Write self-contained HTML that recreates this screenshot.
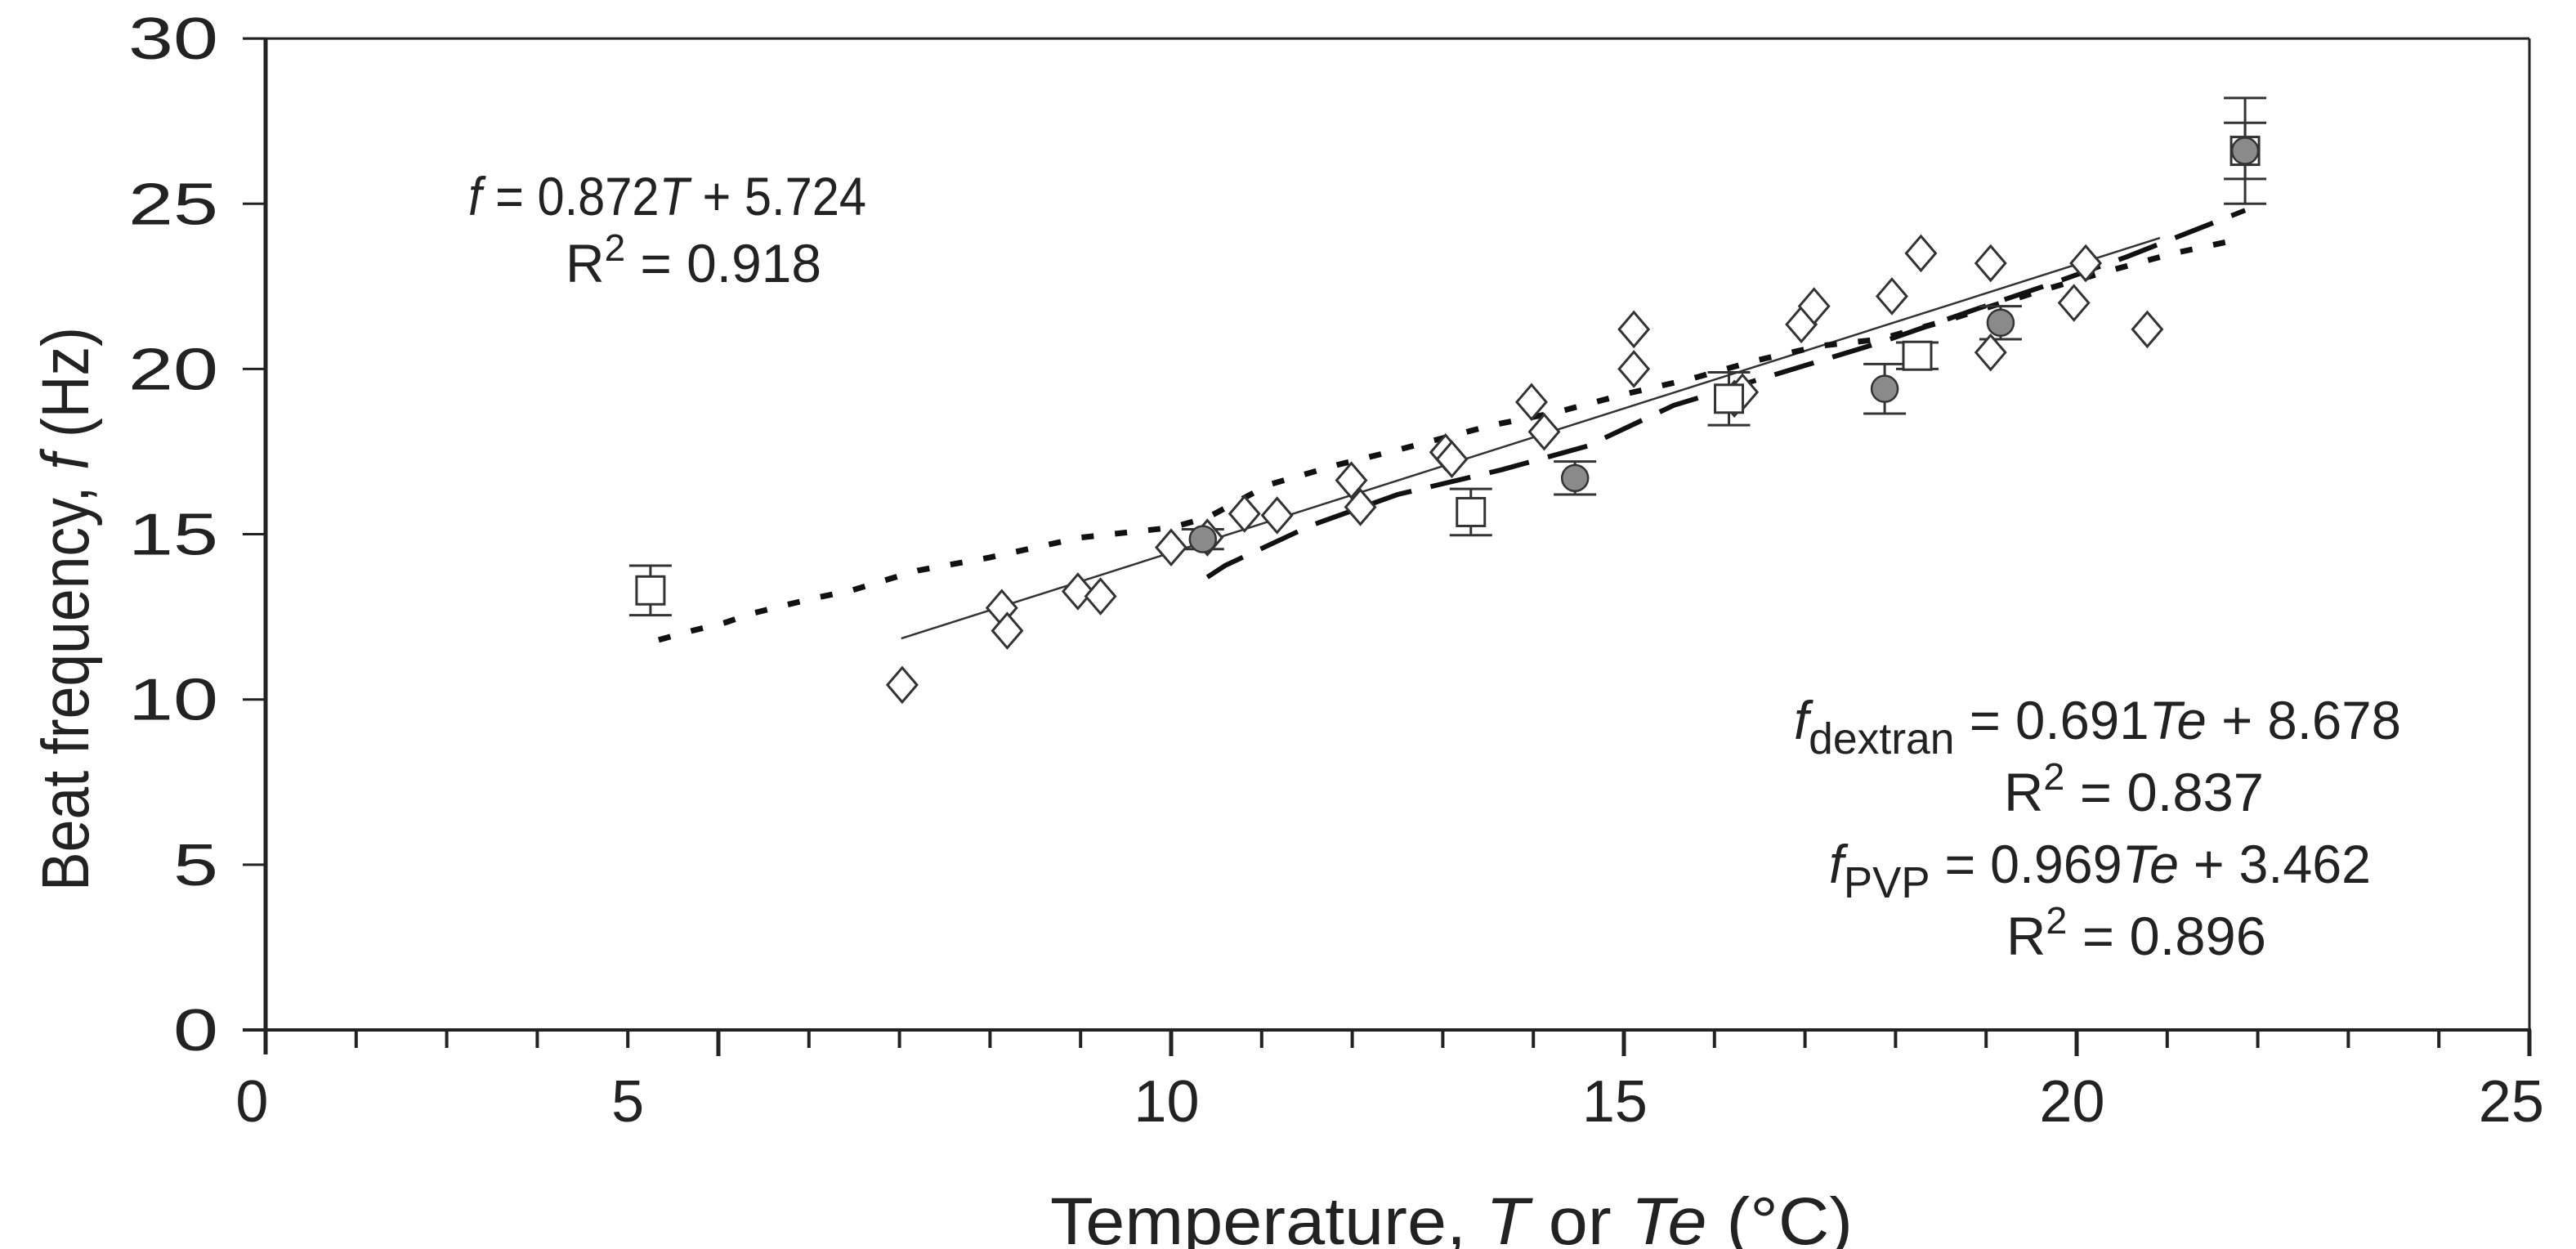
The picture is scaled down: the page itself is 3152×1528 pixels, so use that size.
<!DOCTYPE html>
<html><head><meta charset="utf-8"><style>
html,body{margin:0;padding:0;background:#fff;}
svg{display:block;}
text{font-family:"Liberation Sans",Arial,sans-serif;fill:#222;}
</style></head><body>
<svg id="chart" width="3152" height="1528" viewBox="0 0 3152 1528" xmlns="http://www.w3.org/2000/svg">
<g id="frame"></g>
<g id="lines"></g>
<g id="marks"></g>
<g id="labels">
<text x="573" y="263" font-size="66" textLength="487" lengthAdjust="spacingAndGlyphs"><tspan font-style="italic">f</tspan> = 0.872<tspan font-style="italic">T</tspan> + 5.724</text>
<text x="692" y="345" font-size="66" textLength="313" lengthAdjust="spacingAndGlyphs">R<tspan dy="-26" font-size="46">2</tspan><tspan dy="26"> = 0.918</tspan></text>
<text x="2195" y="904" font-size="66" textLength="743" lengthAdjust="spacingAndGlyphs"><tspan font-style="italic">f</tspan><tspan dy="18" font-size="54">dextran</tspan><tspan dy="-18"> = 0.691</tspan><tspan font-style="italic">Te</tspan> + 8.678</text>
<text x="2452" y="992" font-size="66" textLength="318" lengthAdjust="spacingAndGlyphs">R<tspan dy="-26" font-size="46">2</tspan><tspan dy="26"> = 0.837</tspan></text>
<text x="2238" y="1080" font-size="66" textLength="663" lengthAdjust="spacingAndGlyphs"><tspan font-style="italic">f</tspan><tspan dy="18" font-size="54">PVP</tspan><tspan dy="-18"> = 0.969</tspan><tspan font-style="italic">Te</tspan> + 3.462</text>
<text x="2455" y="1168" font-size="66" textLength="318" lengthAdjust="spacingAndGlyphs">R<tspan dy="-26" font-size="46">2</tspan><tspan dy="26"> = 0.896</tspan></text>
<text x="1776" y="1522" font-size="82" text-anchor="middle" textLength="982" lengthAdjust="spacingAndGlyphs">Temperature, <tspan font-style="italic">T</tspan> or <tspan font-style="italic">Te</tspan> (°C)</text>
<text transform="translate(108,745) rotate(-90)" font-size="82" text-anchor="middle" textLength="690" lengthAdjust="spacingAndGlyphs">Beat frequency, <tspan font-style="italic">f</tspan> (Hz)</text>
</g>
</svg>
<script>
// chart data
const diamondT = [7.03,8.13,8.19,8.97,9.22,10.0,10.4,10.81,11.17,11.99,12.09,13.03,13.1,13.98,14.12,15.11,15.11,16.22,16.31,16.96,17.1,17.96,18.28,19.05,19.05,19.97,20.1,20.78];
const diamondF = [10.44,12.77,12.08,13.27,13.12,14.6,14.9,15.62,15.57,16.63,15.82,17.48,17.27,19.0,18.1,21.2,20.0,19.1,19.3,21.35,21.9,22.2,23.5,23.2,20.5,22.0,23.2,21.2];
const squareT = [4.25,13.31,16.16,18.24,21.86];
const squareF = [13.3,15.67,19.1,20.4,26.6];
const squareErr = [0.75,0.7,0.8,0.4,0.85];
const circleT = [10.35,14.46,17.88,19.16,21.86];
const circleF = [14.85,16.7,19.4,21.4,26.6];
const circleErr = [0.3,0.5,0.75,0.5,1.6];
const fitSlope = 0.872, fitIntercept = 5.724, fitT = [7.02,20.92];
const dottedT = [4.34,4.71,5.08,5.37,5.73,6.12,6.47,6.83,7.2,8.0,9.0,10.0,10.4,11.08,11.84,12.5,13.55,14.27,15.03,15.74,16.45,17.17,17.83,18.6,19.64,20.4,21.07,21.86];
const dottedF = [11.8,12.08,12.33,12.6,12.85,13.1,13.3,13.6,13.9,14.3,14.9,15.2,15.5,16.5,17.1,17.55,18.3,18.7,19.25,19.7,20.25,20.7,20.9,21.5,22.4,23.0,23.5,23.96];
const dashedT = [10.4,10.6,11.55,12.5,13.65,14.6,15.55,16.69,17.83,18.88,19.74,20.56,21.86];
const dashedF = [13.7,14.06,15.27,16.2,16.95,17.67,18.9,19.85,20.8,21.8,22.6,23.4,24.8];
const yTicks = [0,5,10,15,20,25,30];
const xTickLabels = ["0","5","10","15","20","25"];
const xTickLabelPos = [-0.15,4.0,9.95,14.9,19.95,24.8];

const NS="http://www.w3.org/2000/svg";
const X0=325, XU=110.8, Y0=1260, YU=40.43;
function sx(v){return X0+v*XU;}
function sy(v){return Y0-v*YU;}
function mk(tag,attrs,parent){const e=document.createElementNS(NS,tag);for(const k in attrs)e.setAttribute(k,attrs[k]);parent.appendChild(e);return e;}

const frame=document.getElementById('frame');
let e;
e=mk('line',{x1:297,y1:sy(30),x2:sx(25),y2:sy(30),stroke:'#222','stroke-width':3},frame);


e=mk('line',{x1:sx(25),y1:sy(30),x2:sx(25),y2:Y0,stroke:'#222','stroke-width':3},frame);


e=mk('line',{x1:X0,y1:sy(30)-1,x2:X0,y2:Y0+30,stroke:'#222','stroke-width':5},frame);


e=mk('line',{x1:297,y1:Y0,x2:sx(25)+2,y2:Y0,stroke:'#222','stroke-width':4},frame);


yTicks.forEach(v=>{
  const t=mk('line',{x1:297,y1:sy(v),x2:X0,y2:sy(v),stroke:'#222','stroke-width':3},frame);
  
  
  const l=mk('text',{x:267,y:sy(v)+25,'font-size':72,'text-anchor':'end',textLength:String(v).length*55,lengthAdjust:'spacingAndGlyphs'},frame);
  l.textContent=v;
  
  
});
for(let i=1;i<=25;i++){
  const major=i%5===0;
  const t=mk('line',{x1:sx(i),y1:Y0,x2:sx(i),y2:Y0+(major?32:22),stroke:'#222','stroke-width':major?5:4},frame);
  
  
}
xTickLabels.forEach((s,i)=>{
  const l=mk('text',{x:sx(xTickLabelPos[i]),y:1372,'font-size':72,'text-anchor':'middle'},frame);
  l.textContent=s;
  
  
});

const lines=document.getElementById('lines');
function poly(T,F){return T.map((t,i)=>sx(t).toFixed(1)+','+sy(F[i]).toFixed(1)).join(' ');}
e=mk('line',{x1:sx(fitT[0]),y1:sy(fitSlope*fitT[0]+fitIntercept),x2:sx(fitT[1]),y2:sy(fitSlope*fitT[1]+fitIntercept),stroke:'#333','stroke-width':2.5},lines);


e=mk('polyline',{points:poly(dottedT,dottedF),fill:'none',stroke:'#111','stroke-width':7,'stroke-dasharray':'15 26'},lines);


e=mk('polyline',{points:poly(dashedT,dashedF),fill:'none',stroke:'#111','stroke-width':6,'stroke-dasharray':'50 24'},lines);



const marks=document.getElementById('marks');
function errbar(t,f,err,name){
  const g=mk('g',{stroke:'#333','stroke-width':3},marks);
  
  
  const x=sx(t);
  mk('line',{x1:x,y1:sy(f+err),x2:x,y2:sy(f-err)},g);
  mk('line',{x1:x-26,y1:sy(f+err),x2:x+26,y2:sy(f+err)},g);
  mk('line',{x1:x-26,y1:sy(f-err),x2:x+26,y2:sy(f-err)},g);
}
squareT.forEach((t,i)=>errbar(t,squareF[i],squareErr[i],'square-error-bar'));
circleT.forEach((t,i)=>errbar(t,circleF[i],circleErr[i],'circle-error-bar'));
diamondT.forEach((t,i)=>{
  const x=sx(t),y=sy(diamondF[i]);
  const d=mk('polygon',{points:`${x},${y-21} ${x+18},${y} ${x},${y+21} ${x-18},${y}`,fill:'#fff',stroke:'#333','stroke-width':3},marks);
  
  
});
squareT.forEach((t,i)=>{
  const s=mk('rect',{x:sx(t)-17,y:sy(squareF[i])-17,width:34,height:34,fill:'#fff',stroke:'#333','stroke-width':3},marks);
  
  
});
circleT.forEach((t,i)=>{
  const c=mk('circle',{cx:sx(t),cy:sy(circleF[i]),r:16,fill:'#8a8a8a',stroke:'#333','stroke-width':2.5},marks);
  
  
});
</script>
</body></html>
